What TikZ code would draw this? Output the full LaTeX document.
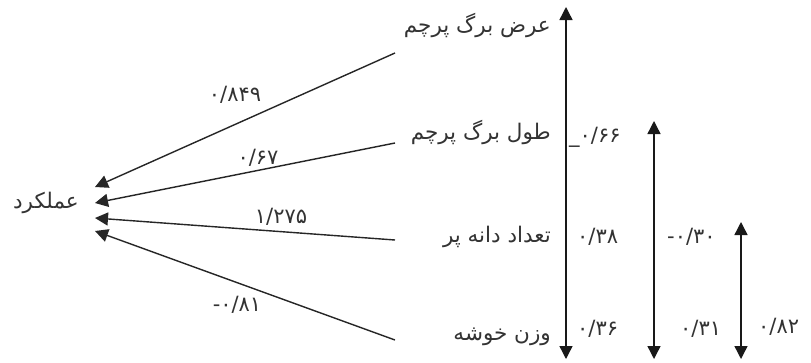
\documentclass[tikz,border=0pt]{standalone}
\usepackage{fontspec}
\usetikzlibrary{arrows.meta}
\TeXXeTstate=1
\newfontfamily\arabicfont[Script=Arabic]{DejaVu Sans}
\newfontfamily\digitfont{DejaVu Sans}
\begin{document}
\begin{tikzpicture}[x=1pt,y=-1pt,
  lbl/.style={font=\arabicfont\fontsize{21.5}{23}\selectfont, text=black!80, inner sep=0pt},
  num/.style={font=\digitfont\fontsize{21}{23}\selectfont, text=black!80, inner sep=0pt},
  link/.style={draw=black!85, line width=1.4pt, -{Triangle[length=13pt,width=13pt]}},
  corr/.style={draw=black!90, line width=1.4pt, {Triangle[length=13pt,width=13pt]}-{Triangle[length=13pt,width=13pt]}}
]
\useasboundingbox[fill=white] (0,0) rectangle (811,362);

% variable nodes
\node[lbl, anchor=east] (t1) at (551,25) {\beginR عرض برگ پرچم\endR};
\node[lbl, anchor=east] (t2) at (551,132) {\beginR طول برگ پرچم\endR};
\node[lbl, anchor=east] (t3) at (551,237) {\beginR تعداد دانه پر\endR};
\node[lbl, anchor=east] (t4) at (551,337) {\beginR وزن خوشه\endR};
\node[lbl, anchor=east] (y) at (79,203) {\beginR عملکرد\endR};

% connector ends
\coordinate (s1) at (395,53);
\coordinate (s2) at (395,143);
\coordinate (s3) at (395,240);
\coordinate (s4) at (395,340);
\coordinate (y1) at (95,187);
\coordinate (y2) at (95,203);
\coordinate (y3) at (95,218);
\coordinate (y4) at (95,231);

\draw[link] (s1) -- (y1);
\draw[link] (s2) -- (y2);
\draw[link] (s3) -- (y3);
\draw[link] (s4) -- (y4);

% path coefficients
\node[num] (p1) at (235,95) {۰/۸۴۹};
\node[num] (p2) at (258,158) {۰/۶۷};
\node[num] (p3) at (281,217) {۱/۲۷۵};
\node[num] (p4) at (237,305) {-۰/۸۱};

% correlation arrows
\coordinate (a1t) at (566,7);
\coordinate (a1b) at (566,359);
\coordinate (a2t) at (654,121);
\coordinate (a2b) at (654,359);
\coordinate (a3t) at (741,222);
\coordinate (a3b) at (741,359);
\draw[corr] (a1t) -- (a1b);
\draw[corr] (a2t) -- (a2b);
\draw[corr] (a3t) -- (a3b);

% correlation values
\node[num, anchor=west] (c1) at (569,137) {\_۰/۶۶};
\node[num, anchor=west] (c2) at (577,237) {۰/۳۸};
\node[num, anchor=west] (c3) at (577,329) {۰/۳۶};
\node[num, anchor=west] (c4) at (667,237) {-۰/۳۰};
\node[num, anchor=west] (c5) at (680,329) {۰/۳۱};
\node[num, anchor=west] (c6) at (758,327) {۰/۸۲};
\end{tikzpicture}
\end{document}
